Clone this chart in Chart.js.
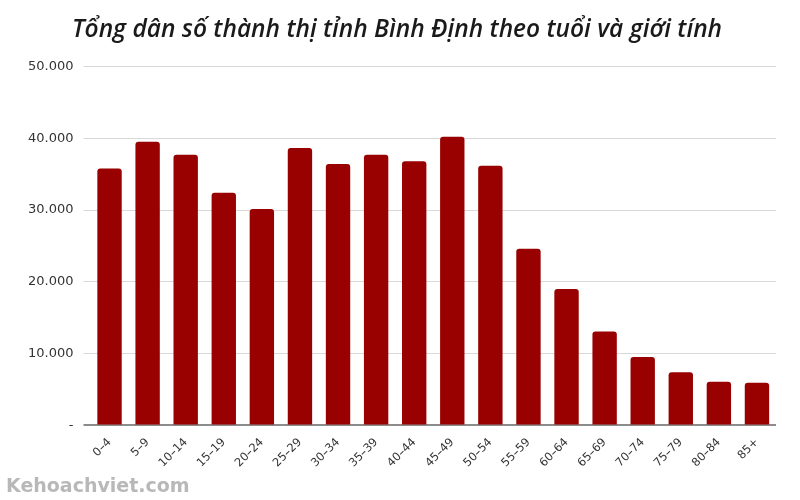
<!DOCTYPE html>
<html>
<head>
<meta charset="utf-8">
<script src="https://cdn.jsdelivr.net/npm/chart.js@4.4.1/dist/chart.umd.min.js"></script>
<style>
  html, body { margin: 0; padding: 0; background: #fff; }
  #wrap { position: relative; width: 800px; height: 500px; }
  #mark {
    position: absolute; left: 6px; top: 474px;
    font: bold 19px "DejaVu Sans", sans-serif; color: #b8b8b8;
  }
</style>
</head>
<body>
<div id="wrap">
  <canvas id="barChart" width="800" height="500"></canvas>
  <div id="mark">Kehoachviet.com</div>
</div>
<script>
// age groups
var ageGroups = ["0–4", "5–9", "10–14", "15–19", "20–24", "25–29", "30–34", "35–39", "40–44",
  "45–49", "50–54", "55–59", "60–64", "65–69", "70–74", "75–79", "80–84", "85+"];
// urban population per age group
var population = [35800, 39500, 37700, 32400, 30150, 38650, 36400, 37700, 36800,
  40200, 36150, 24600, 19000, 13100, 9550, 7400, 6100, 5950];
var yTicks = [0, 10000, 20000, 30000, 40000, 50000];

function fmt(v) {
  if (v === 0) return "-";
  return String(v).replace(/\B(?=(\d{3})+(?!\d))/g, ".");
}

var ctx = document.getElementById("barChart").getContext("2d");
var barChart = new Chart(ctx, {
  type: "bar",
  data: {
    labels: ageGroups,
    datasets: [{
      data: population,
      backgroundColor: "#990000",
      borderRadius: 3,
      borderSkipped: "bottom",
      categoryPercentage: 0.8,
      barPercentage: 0.8
    }]
  },
  options: {
    responsive: false,
    animation: false,
    layout: { padding: { left: 18, right: 24, top: 5, bottom: 28 } },
    plugins: {
      legend: { display: false },
      tooltip: { enabled: false },
      title: {
        display: true,
        text: "Tổng dân số thành thị tỉnh Bình Định theo tuổi và giới tính",
        color: "#1a1a1a",
        font: { family: "Open Sans", size: 24.5, style: "italic", weight: "600" },
        padding: { top: 10, bottom: 22 }
      }
    },
    scales: {
      x: {
        grid: { display: false },
        border: { display: false },
        ticks: {
          color: "#333",
          font: { family: "DejaVu Sans", size: 11.5 },
          maxRotation: 45,
          minRotation: 45,
          padding: 2
        }
      },
      y: {
        min: 0,
        max: 50000,
        afterBuildTicks: function (axis) {
          axis.ticks = yTicks.map(function (v) { return { value: v }; });
        },
        border: { display: false },
        grid: {
          tickLength: 7,
          color: function (c) { return c.tick && c.tick.value === 0 ? "#8c8c8c" : "#d9d9d9"; },
          lineWidth: function (c) { return c.tick && c.tick.value === 0 ? 2 : 1; }
        },
        ticks: {
          color: "#333",
          font: { family: "DejaVu Sans", size: 13 },
          padding: 10,
          callback: function (v) { return fmt(v); }
        }
      }
    }
  }
});
</script>
</body>
</html>
